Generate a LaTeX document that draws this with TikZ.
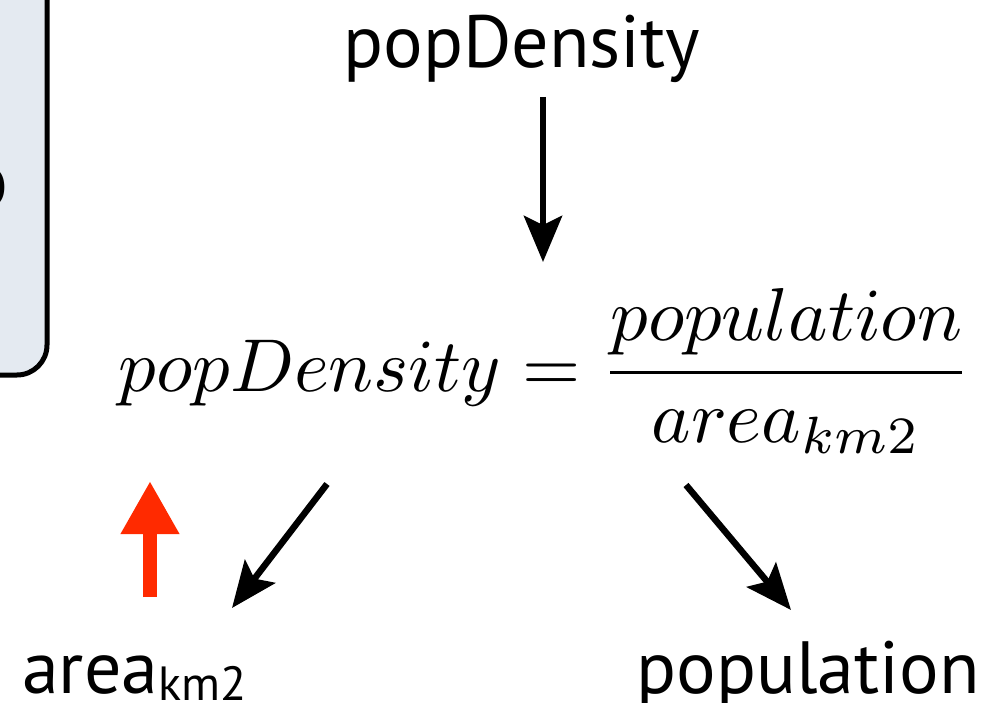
\documentclass[tikz,border=0pt]{standalone}
\usepackage{amsmath}
\usepackage{graphicx}
\usepackage{fontspec}
\usetikzlibrary{arrows.meta}
\newfontfamily\lblfont{PT Sans}
\definecolor{panelfill}{RGB}{228,234,241}
\definecolor{upred}{RGB}{255,42,0}
\newcommand{\subkm}{\raisebox{-7pt}{\fontsize{48}{52}\selectfont km2}}
\tikzset{
  lbl/.style={font=\lblfont\fontsize{74}{84}\selectfont,inner sep=0pt},
  eqnode/.style={inner sep=0pt},
  darrow/.style={-{Stealth[length=46pt,width=38pt,inset=9pt]},line width=6.5pt},
  rarrow/.style={-{Triangle[length=53pt,width=55pt]},line width=14pt,color=upred},
  panel/.style={draw=black,line width=5pt,fill=panelfill,rounded corners=30pt}
}
\begin{document}
\begin{tikzpicture}[x=1pt,y=-1pt]
  \useasboundingbox (0,0) rectangle (988,703);
  \clip (0,0) rectangle (988,703);

  % cut-off panel on the left
  \draw[panel] (-200,-50) rectangle (47,375);
  \node[lbl,anchor=east,font=\lblfont\bfseries\fontsize{80}{90}\selectfont] (cut) at (8,188) {o};

  \node[lbl,anchor=base] (top) at (522,68) {popDensity};
  \node[eqnode] (eq) at (545,371)
    {\scalebox{7.49}{$\displaystyle popDensity = \frac{population}{area_{km2}}$}};
  \node[lbl,anchor=base west] (area) at (22,693) {area\subkm};
  \node[lbl,anchor=base] (pop) at (808,693) {population};

  \coordinate (t1) at (543,97);
  \coordinate (t2) at (543,262);
  \coordinate (l1) at (327,484);
  \coordinate (l2) at (232,608);
  \coordinate (r1) at (686,485);
  \coordinate (r2) at (791,610);
  \coordinate (u1) at (150,597);
  \coordinate (u2) at (150,481);

  \draw[darrow] (t1) -- (t2);
  \draw[darrow] (l1) -- (l2);
  \draw[darrow] (r1) -- (r2);
  \draw[rarrow] (u1) -- (u2);
\end{tikzpicture}
\end{document}
